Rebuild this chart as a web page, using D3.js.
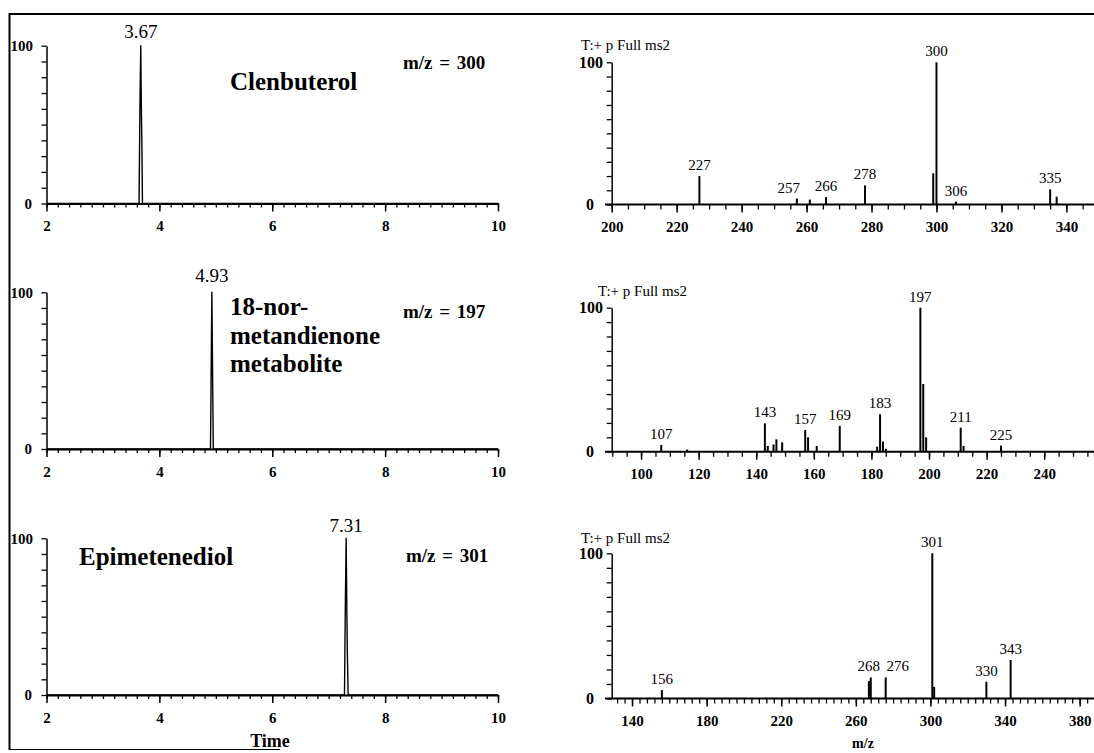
<!DOCTYPE html>
<html>
<head>
<meta charset="utf-8">
<script src="https://cdn.jsdelivr.net/npm/d3@7"></script>
<style>
  html, body { margin: 0; padding: 0; background: #fff; }
  svg { display: block; }
  text { font-family: "Liberation Serif", "Times New Roman", serif; fill: #000; }
</style>
</head>
<body>
<svg id="chart" width="1094" height="753"></svg>
<script>
// ---------------- DATA ----------------
const chromTicks = [2, 4, 6, 8, 10];

// chromatogram traces: [time (min), relative intensity]
const chromClenbuterol = [[2,0],[3.64,0],[3.655,60],[3.67,100],[3.68,62],[3.69,38],[3.70,0],[10,0]];
const chromNorMetabolite = [[2,0],[4.905,0],[4.915,38],[4.93,100],[4.935,80],[4.945,38],[4.955,0],[10,0]];
const chromEpimetenediol = [[2,0],[7.28,0],[7.295,58],[7.31,100],[7.32,60],[7.33,28],[7.345,0],[10,0]];

const chromPeakLabels = ["3.67", "4.93", "7.31"];
const chromPeakTimes = [3.67, 4.93, 7.31];
const compoundNames = [["Clenbuterol"], ["18-nor-", "metandienone", "metabolite"], ["Epimetenediol"]];
const ionLabels = ["m/z = 300", "m/z = 197", "m/z = 301"];

// MS2 spectra
const specClenMz  = [227, 257, 261, 266, 278, 299, 300, 306, 335, 337];
const specClenInt = [20, 4.2, 3.5, 5.2, 13.4, 22, 100, 2, 10.6, 5.5];
const specClenLabels = [227, 257, 266, 278, 300, 306, 335];
const specClenTicks = [200, 220, 240, 260, 280, 300, 320, 340];

const specNorMz  = [107, 116, 143, 144, 146, 147, 149, 157, 158, 161, 169, 182, 183, 184, 185, 197, 198, 199, 211, 212, 225];
const specNorInt = [4.6, 1.5, 19.7, 4, 5, 8.6, 6.5, 15, 10, 4, 18, 3.5, 26, 7, 2, 100, 47, 10, 16.7, 4, 4.2];
const specNorLabels = [107, 143, 157, 169, 183, 197, 211, 225];
const specNorTicks = [100, 120, 140, 160, 180, 200, 220, 240];

const specEpiMz  = [156, 267, 268, 276, 301, 302, 330, 343];
const specEpiInt = [5.8, 12, 14.5, 14.5, 100, 8, 11.5, 26.5];
const specEpiLabels = [156, 268, 276, 301, 330, 343];
const specEpiTicks = [140, 180, 220, 260, 300, 340, 380];

const spectrumTitle = "T:+ p Full ms2";

// ---------------- LAYOUT ----------------
const svg = d3.select("#chart");
svg.append("rect").attr("width", 1094).attr("height", 753).attr("fill", "#fff");

// frame
svg.append("line").attr("x1", 9).attr("x2", 1094).attr("y1", 14).attr("y2", 14).attr("stroke", "#000").attr("stroke-width", 2);
svg.append("line").attr("x1", 9.5).attr("x2", 9.5).attr("y1", 13).attr("y2", 750).attr("stroke", "#000").attr("stroke-width", 2);
svg.append("line").attr("x1", 9).attr("x2", 280).attr("y1", 749.5).attr("y2", 749.5).attr("stroke", "#000").attr("stroke-width", 1.2);

const chromLayout = [
  { y0: 203.5, y100: 45.7, labelY: 38, nameX: 230, nameY: 90, nameDy: 0, ionX: 403, ionY: 68.5 },
  { y0: 449,   y100: 292.3, labelY: 281.7, nameX: 230, nameY: 315, nameDy: 28.5, ionX: 403, ionY: 318 },
  { y0: 695,   y100: 538.3, labelY: 532.3, nameX: 79, nameY: 565, nameDy: 0, ionX: 406, ionY: 562 }
];
const chromData = [chromClenbuterol, chromNorMetabolite, chromEpimetenediol];

function drawChrom(i) {
  const L = chromLayout[i];
  const x = d3.scaleLinear().domain([2, 10]).range([46.5, 498]);
  const y = d3.scaleLinear().domain([0, 100]).range([L.y0, L.y100]);
  const g = svg.append("g");

  const minor = d3.range(2, 10.001, 0.2).map(v => +v.toFixed(1));
  g.append("g").attr("transform", `translate(0,${L.y0})`)
    .call(d3.axisBottom(x).tickValues(minor).tickSize(4).tickSizeOuter(0).tickFormat(""))
    .call(a => a.selectAll("line").attr("stroke-width", 1.3))
    .call(a => a.select(".domain").attr("stroke-width", 2));
  g.append("g").attr("transform", `translate(0,${L.y0})`)
    .call(d3.axisBottom(x).tickValues(chromTicks).tickSize(8).tickSizeOuter(0).tickPadding(9))
    .call(a => a.select(".domain").remove())
    .call(a => a.selectAll("line").attr("stroke-width", 1.5))
    .call(a => a.selectAll("text").attr("font-size", 15).attr("font-weight", "bold")
        .attr("font-family", "Liberation Serif, serif"));

  g.append("g").attr("transform", `translate(46.5,0)`)
    .call(d3.axisLeft(y).tickValues(d3.range(0, 101, 10)).tickSize(5).tickSizeOuter(0).tickFormat(""))
    .call(a => a.select(".domain").attr("stroke-width", 1.5))
    .call(a => a.selectAll("line").attr("stroke-width", 1.3));
  g.append("text").attr("x", 33).attr("y", y(100)).attr("dy", "0.35em").attr("text-anchor", "end")
    .attr("font-size", 15).attr("font-weight", "bold").text("100");
  g.append("text").attr("x", 32).attr("y", y(0)).attr("dy", "0.35em").attr("text-anchor", "end")
    .attr("font-size", 15).attr("font-weight", "bold").text("0");

  g.append("path").datum(chromData[i])
    .attr("d", d3.line().x(d => x(d[0])).y(d => y(d[1])))
    .attr("fill", "none").attr("stroke", "#000").attr("stroke-width", 1.4).attr("stroke-linejoin", "round");

  g.append("text").attr("x", x(chromPeakTimes[i])).attr("y", L.labelY).attr("text-anchor", "middle")
    .attr("font-size", 19).text(chromPeakLabels[i]);

  compoundNames[i].forEach((s, k) => {
    g.append("text").attr("x", L.nameX).attr("y", L.nameY + k * L.nameDy)
      .attr("font-size", 25).attr("font-weight", "bold").text(s);
  });
  g.append("text").attr("x", L.ionX).attr("y", L.ionY)
    .attr("font-size", 19).attr("font-weight", "bold").attr("word-spacing", 2).text(ionLabels[i]);
}
[0, 1, 2].forEach(drawChrom);

svg.append("text").attr("x", 270).attr("y", 746.5).attr("text-anchor", "middle")
  .attr("font-size", 18).attr("font-weight", "bold").text("Time");

const specLayout = [
  { domain: [200, 348.5], y0: 204.5, y100: 62.3, minor: 5, titleX: 581, titleY: 50, labelDx: {257: -8} },
  { domain: [89.8, 257.3], y0: 451.7, y100: 307.7, minor: 5, titleX: 598, titleY: 296, labelDx: {} },
  { domain: [129.1, 387.7], y0: 698.5, y100: 553.3, minor: 4, titleX: 581, titleY: 542.7, labelDx: {276: 12, 268: -2} }
];
const specMz = [specClenMz, specNorMz, specEpiMz];
const specInt = [specClenInt, specNorInt, specEpiInt];
const specLabels = [specClenLabels, specNorLabels, specEpiLabels];
const specTicks = [specClenTicks, specNorTicks, specEpiTicks];

function drawSpec(i) {
  const L = specLayout[i];
  const x = d3.scaleLinear().domain(L.domain).range([611.7, 1094]);
  const y = d3.scaleLinear().domain([0, 100]).range([L.y0, L.y100]);
  const g = svg.append("g");

  const start = Math.ceil(L.domain[0] / L.minor) * L.minor;
  const minor = d3.range(start, L.domain[1], L.minor);
  g.append("line").attr("x1", 605).attr("x2", 1094).attr("y1", L.y0).attr("y2", L.y0)
    .attr("stroke", "#000").attr("stroke-width", 2);
  g.append("g").attr("transform", `translate(0,${L.y0})`)
    .call(d3.axisBottom(x).tickValues(minor).tickSize(5).tickSizeOuter(0).tickFormat(""))
    .call(a => a.select(".domain").remove())
    .call(a => a.selectAll("line").attr("stroke-width", 1.3));
  g.append("g").attr("transform", `translate(0,${L.y0})`)
    .call(d3.axisBottom(x).tickValues(specTicks[i]).tickSize(8).tickSizeOuter(0).tickPadding(9))
    .call(a => a.select(".domain").remove())
    .call(a => a.selectAll("line").attr("stroke-width", 1.5))
    .call(a => a.selectAll("text").attr("font-size", 15).attr("font-weight", "bold")
        .attr("font-family", "Liberation Serif, serif"));

  g.append("g").attr("transform", `translate(611.7,0)`)
    .call(d3.axisLeft(y).tickValues(d3.range(0, 101, 10)).tickSize(5).tickSizeOuter(0).tickFormat(""))
    .call(a => a.select(".domain").attr("stroke-width", 1.5))
    .call(a => a.selectAll("line").attr("stroke-width", 1.3));
  g.append("text").attr("x", 603).attr("y", y(100)).attr("dy", "0.35em").attr("text-anchor", "end")
    .attr("font-size", 16).attr("font-weight", "bold").text("100");
  g.append("text").attr("x", 594).attr("y", y(0)).attr("dy", "0.35em").attr("text-anchor", "end")
    .attr("font-size", 16).attr("font-weight", "bold").text("0");

  g.append("text").attr("x", L.titleX).attr("y", L.titleY).attr("font-size", 15).text(spectrumTitle);

  const pts = specMz[i].map((m, k) => ({ m, v: specInt[i][k] }));
  g.selectAll(".stick").data(pts).enter().append("line")
    .attr("x1", d => x(d.m)).attr("x2", d => x(d.m))
    .attr("y1", L.y0).attr("y2", d => y(d.v))
    .attr("stroke", "#000").attr("stroke-width", 2);

  specLabels[i].forEach(m => {
    const v = specInt[i][specMz[i].indexOf(m)];
    g.append("text").attr("x", x(m) + (L.labelDx[m] || 0)).attr("y", y(v) - 6)
      .attr("text-anchor", "middle").attr("font-size", 15).text(m);
  });
}
[0, 1, 2].forEach(drawSpec);

svg.append("text").attr("x", 863).attr("y", 748).attr("text-anchor", "middle")
  .attr("font-size", 14).attr("font-weight", "bold").text("m/z");
</script>
</body>
</html>
